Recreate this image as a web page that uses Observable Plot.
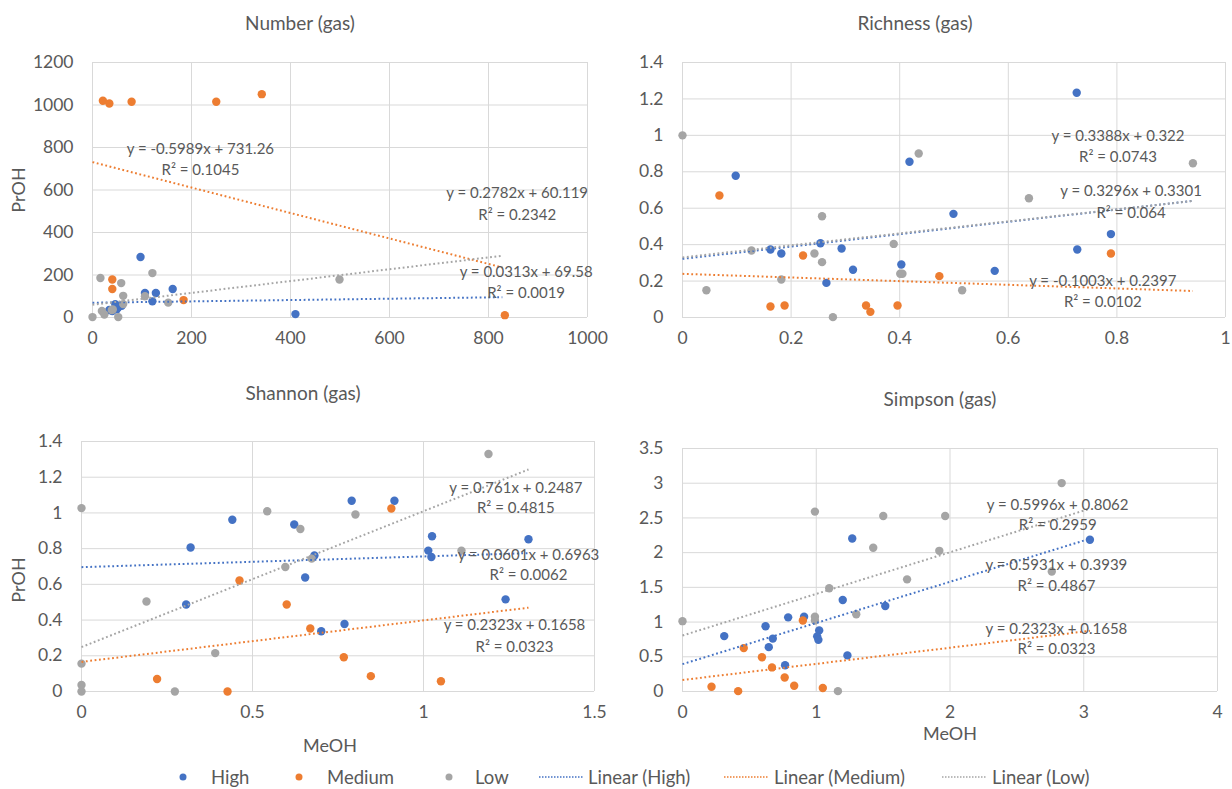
<!DOCTYPE html>
<html><head><meta charset="utf-8">
<script src="https://cdn.jsdelivr.net/npm/d3@7"></script>
<script src="https://cdn.jsdelivr.net/npm/@observablehq/plot@0.6"></script>
<style>
body{margin:0;background:#fff;}
#chart{position:relative;width:1232px;height:789px;font-family:Lato,"Open Sans",sans-serif;color:#595959;overflow:hidden;background:#fff}
.panel{position:absolute}
.t{position:absolute;transform:translate(-50%,-50%);white-space:nowrap}
.title{font-size:19px}
.axlab{font-size:18px}
.rot{transform:translate(-50%,-50%) rotate(-90deg)}
.leg{position:absolute;top:766px;font-size:18.5px;white-space:nowrap;line-height:22px}
</style></head><body><div id="chart"></div><script>
// ---------- data ----------
const seriesNames = ["High", "Medium", "Low"];
const seriesColors = ["#4472C4", "#ED7D31", "#A5A5A5"];

// Number (gas)
const numberHigh = [[34,35],[46,63],[49,39],[59,55],[40,30],[52,48],[97,285],[106,115],[121,76],[128,115],[162,134],[410,16]];
const numberMedium = [[21,1020],[34,1007],[79,1015],[250,1015],[342,1051],[40,179],[40,134],[184,82],[833,11]];
const numberLow = [[0,2],[16,186],[19,31],[24,14],[39,35],[41,38],[52,2],[58,162],[62,102],[62,63],[106,100],[121,209],[153,70],[499,179]];
const numberSlopes = [0.0313, -0.5989, 0.2782];
const numberIntercepts = [69.58, 731.26, 60.119];
const numberR2 = [0.0019, 0.1045, 0.2342];
const numberTrendX = [0, 828];
const numberXTicks = [0, 200, 400, 600, 800, 1000];
const numberYTicks = [0, 200, 400, 600, 800, 1000, 1200];

// Richness (gas)
const richnessHigh = [[0.098,0.778],[0.162,0.373],[0.182,0.351],[0.254,0.408],[0.265,0.190],[0.293,0.379],[0.314,0.262],[0.403,0.291],[0.418,0.855],[0.499,0.569],[0.575,0.256],[0.726,1.234],[0.727,0.373],[0.789,0.458]];
const richnessMedium = [[0.068,0.670],[0.162,0.060],[0.188,0.066],[0.222,0.340],[0.338,0.066],[0.346,0.031],[0.396,0.066],[0.473,0.227],[0.789,0.351]];
const richnessLow = [[0,1.0],[0.044,0.150],[0.127,0.368],[0.182,0.209],[0.243,0.351],[0.257,0.556],[0.257,0.304],[0.277,0.002],[0.389,0.404],[0.401,0.240],[0.405,0.240],[0.435,0.900],[0.515,0.150],[0.638,0.655],[0.940,0.847]];
const richnessSlopes = [0.3388, -0.1003, 0.3296];
const richnessIntercepts = [0.322, 0.2397, 0.3301];
const richnessR2 = [0.0743, 0.0102, 0.064];
const richnessTrendX = [0, 0.94];
const richnessXTicks = [0, 0.2, 0.4, 0.6, 0.8, 1];
const richnessYTicks = [0, 0.2, 0.4, 0.6, 0.8, 1, 1.2, 1.4];

// Shannon (gas)
const shannonHigh = [[0.319,0.806],[0.306,0.487],[0.441,0.962],[0.622,0.935],[0.654,0.638],[0.681,0.762],[0.701,0.337],[0.769,0.378],[0.790,1.068],[0.915,1.068],[1.025,0.869],[1.014,0.789],[1.023,0.753],[1.240,0.516],[1.307,0.853]];
const shannonMedium = [[0.221,0.070],[0.427,0.0],[0.462,0.622],[0.600,0.487],[0.669,0.353],[0.767,0.192],[0.846,0.086],[0.906,1.025],[1.051,0.057]];
const shannonLow = [[0,1.027],[0,0.156],[0,0.036],[0,0.0],[0.190,0.504],[0.273,0.0],[0.391,0.215],[0.543,1.009],[0.596,0.697],[0.640,0.910],[0.673,0.744],[0.801,0.991],[1.111,0.789],[1.190,1.330]];
const shannonSlopes = [0.0601, 0.2323, 0.761];
const shannonIntercepts = [0.6963, 0.1658, 0.2487];
const shannonR2 = [0.0062, 0.0323, 0.4815];
const shannonTrendX = [0, 1.307];
const shannonXTicks = [0, 0.5, 1, 1.5];
const shannonYTicks = [0, 0.2, 0.4, 0.6, 0.8, 1, 1.2, 1.4];

// Simpson (gas)
const simpsonHigh = [[0.312,0.798],[0.621,0.940],[0.645,0.639],[0.675,0.762],[0.767,0.379],[0.790,1.068],[0.909,1.077],[1.022,0.880],[1.007,0.794],[1.016,0.744],[1.198,1.318],[1.233,0.520],[1.269,2.203],[1.516,1.232],[3.046,2.185]];
const simpsonMedium = [[0.217,0.068],[0.416,0.005],[0.458,0.625],[0.594,0.493],[0.669,0.347],[0.764,0.201],[0.835,0.082],[0.900,1.022],[1.049,0.050]];
const simpsonLow = [[0,1.013],[0.990,2.591],[0.990,1.077],[0.990,1.022],[1.097,1.487],[1.162,0.005],[1.299,1.113],[1.426,2.071],[1.501,2.527],[1.679,1.615],[1.920,2.026],[1.964,2.527],[2.761,1.729],[2.835,3.002]];
const simpsonSlopes = [0.5931, 0.2323, 0.5996];
const simpsonIntercepts = [0.3939, 0.1658, 0.8062];
const simpsonR2 = [0.4867, 0.0323, 0.2959];
const simpsonTrendX = [0, 3.046];
const simpsonXTicks = [0, 1, 2, 3, 4];
const simpsonYTicks = [0, 0.5, 1, 1.5, 2, 2.5, 3, 3.5];

const panelTitles = ["Number (gas)", "Richness (gas)", "Shannon (gas)", "Simpson (gas)"];
const yAxisTitle = "PrOH";
const xAxisTitle = "MeOH";

// ---------- layout ----------
const panels = [
  {title: panelTitles[0], series: [numberHigh, numberMedium, numberLow], slopes: numberSlopes, intercepts: numberIntercepts, r2: numberR2, trendX: numberTrendX, xTicks: numberXTicks, yTicks: numberYTicks,
   box: {left: 0, top: 0, width: 616, height: 360, ml: 92, mr: 29, mt: 62, mb: 43}, titlePos: [300, 22],
   eqPos: [[876, 212, 876, 113], [218, 792, 218, 695], [858, 584, 858, 483]], yLab: [18, 190], xLab: null},
  {title: panelTitles[1], series: [richnessHigh, richnessMedium, richnessLow], slopes: richnessSlopes, intercepts: richnessIntercepts, r2: richnessR2, trendX: richnessTrendX, xTicks: richnessXTicks, yTicks: richnessYTicks,
   box: {left: 616, top: 0, width: 616, height: 360, ml: 66, mr: 7, mt: 62, mb: 43}, titlePos: [915, 22],
   eqPos: [[0.802, 0.997, 0.802, 0.882], [0.774, 0.201, 0.774, 0.082], [0.826, 0.692, 0.826, 0.573]], yLab: null, xLab: null},
  {title: panelTitles[2], series: [shannonHigh, shannonMedium, shannonLow], slopes: shannonSlopes, intercepts: shannonIntercepts, r2: shannonR2, trendX: shannonTrendX, xTicks: shannonXTicks, yTicks: shannonYTicks,
   box: {left: 0, top: 370, width: 616, height: 360, ml: 81, mr: 22, mt: 71, mb: 39}, titlePos: [303, 392],
   eqPos: [[1.307, 0.762, 1.307, 0.649], [1.266, 0.369, 1.266, 0.247], [1.270, 1.140, 1.270, 1.027]], yLab: [18, 580], xLab: [330, 745]},
  {title: panelTitles[3], series: [simpsonHigh, simpsonMedium, simpsonLow], slopes: simpsonSlopes, intercepts: simpsonIntercepts, r2: simpsonR2, trendX: simpsonTrendX, xTicks: simpsonXTicks, yTicks: simpsonYTicks,
   box: {left: 616, top: 370, width: 616, height: 360, ml: 66, mr: 15, mt: 78, mb: 39}, titlePos: [940, 398],
   eqPos: [[2.796, 1.816, 2.796, 1.524], [2.796, 0.899, 2.796, 0.611], [2.805, 2.687, 2.805, 2.400]], yLab: null, xLab: [950, 733]}
];

const chart = document.getElementById("chart");
function addText(txt, x, y, cls) {
  const d = document.createElement("div");
  d.className = "t " + cls;
  d.textContent = txt;
  d.style.left = x + "px"; d.style.top = y + "px";
  chart.appendChild(d);
}

panels.forEach(p => {
  const b = p.box;
  const marks = [
    Plot.gridX(p.xTicks, {stroke: "#D9D9D9", strokeOpacity: 1}),
    Plot.gridY(p.yTicks, {stroke: "#D9D9D9", strokeOpacity: 1}),
    Plot.axisX(p.xTicks, {tickSize: 0, tickPadding: 14, fontSize: 17.5, tickFormat: d => String(d), label: null}),
    Plot.axisY(p.yTicks, {tickSize: 0, tickPadding: 19, fontSize: 17.5, tickFormat: d => String(d), label: null})
  ];
  p.series.forEach((pts, i) => {
    marks.push(Plot.dot(pts, {x: d => d[0], y: d => d[1], r: 4.2, fill: seriesColors[i], stroke: "none"}));
  });
  p.series.forEach((pts, i) => {
    const line = p.trendX.map(x => ({x, y: p.slopes[i] * x + p.intercepts[i]}));
    marks.push(Plot.line(line, {x: "x", y: "y", stroke: seriesColors[i], strokeWidth: 2, strokeDasharray: "1.8 2.6", strokeLinecap: "butt"}));
  });
  p.series.forEach((pts, i) => {
    const e = p.eqPos[i];
    const eq = `y = ${p.slopes[i]}x + ${p.intercepts[i]}`.replace("+ -", "- ");
    marks.push(Plot.text([eq], {x: () => e[0], y: () => e[1], text: d => d, fontSize: 15, fill: "#595959"}));
    marks.push(Plot.text([`R² = ${p.r2[i]}`], {x: () => e[2], y: () => e[3], text: d => d, fontSize: 15, fill: "#595959"}));
  });
  const svg = Plot.plot({
    width: b.width, height: b.height,
    marginLeft: b.ml, marginRight: b.mr, marginTop: b.mt, marginBottom: b.mb,
    x: {domain: [p.xTicks[0], p.xTicks[p.xTicks.length - 1]]},
    y: {domain: [p.yTicks[0], p.yTicks[p.yTicks.length - 1]]},
    style: {fontFamily: "Lato, 'Open Sans', sans-serif", color: "#595959", background: "transparent", overflow: "visible"},
    marks
  });
  const wrap = document.createElement("div");
  wrap.className = "panel";
  wrap.style.left = b.left + "px"; wrap.style.top = b.top + "px";
  wrap.appendChild(svg);
  chart.appendChild(wrap);
  addText(p.title, p.titlePos[0], p.titlePos[1], "title");
  if (p.yLab) addText(yAxisTitle, p.yLab[0], p.yLab[1], "axlab rot");
  if (p.xLab) addText(xAxisTitle, p.xLab[0], p.xLab[1], "axlab");
});

// ---------- legend ----------
const legendItems = [
  {label: seriesNames[0], kind: "dot", color: seriesColors[0], mx: 183, tx: 211},
  {label: seriesNames[1], kind: "dot", color: seriesColors[1], mx: 299, tx: 327},
  {label: seriesNames[2], kind: "dot", color: seriesColors[2], mx: 449, tx: 475},
  {label: "Linear (" + seriesNames[0] + ")", kind: "line", color: seriesColors[0], mx: 561, tx: 588},
  {label: "Linear (" + seriesNames[1] + ")", kind: "line", color: seriesColors[1], mx: 746, tx: 774},
  {label: "Linear (" + seriesNames[2] + ")", kind: "line", color: seriesColors[2], mx: 964, tx: 992}
];
legendItems.forEach(it => {
  const s = document.createElementNS("http://www.w3.org/2000/svg", "svg");
  s.setAttribute("width", 50); s.setAttribute("height", 22);
  s.style.position = "absolute"; s.style.left = (it.mx - 25) + "px"; s.style.top = "766px";
  if (it.kind === "dot") {
    s.innerHTML = `<circle cx="25" cy="11" r="3.5" fill="${it.color}"/>`;
  } else {
    s.innerHTML = `<line x1="3" x2="47" y1="11" y2="11" stroke="${it.color}" stroke-width="1.5" stroke-dasharray="1.5 1.5"/>`;
  }
  chart.appendChild(s);
  const t = document.createElement("div");
  t.className = "leg";
  t.style.left = it.tx + "px";
  t.textContent = it.label;
  chart.appendChild(t);
});
</script></body></html>
